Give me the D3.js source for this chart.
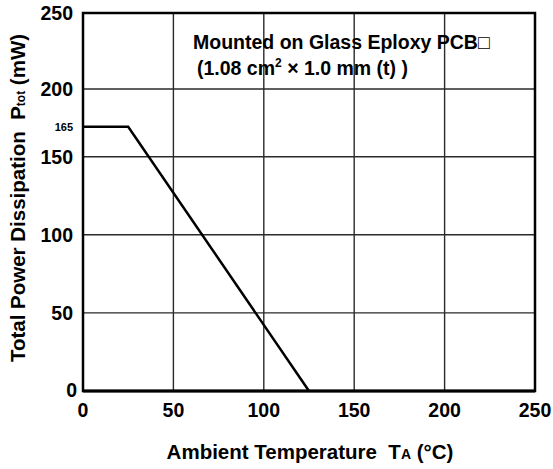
<!DOCTYPE html>
<html>
<head>
<meta charset="utf-8">
<script src="https://cdn.jsdelivr.net/npm/d3@7/dist/d3.min.js"></script>
<style>
  body { margin: 0; background: #fff; }
  svg text { font-family: "Liberation Sans", Arial, sans-serif; font-weight: bold; fill: #000; white-space: pre; }
</style>
</head>
<body>
<svg id="chart" width="553" height="469"></svg>
<script>
// axis ticks
var xTicks = [0, 50, 100, 150, 200, 250];
var yTicks = [0, 50, 100, 150, 200, 250];
var yMarks = [165];
// derating curve: ambient temperature (degC) vs power (mW)
var tempA = [0, 25, 125];
var powerTot = [165, 165, 0];
var noteLines = ['Mounted on Glass Eploxy PCB\u25A1', '(1.08 cm', '2', ' \u00D7 1.0 mm (t) )'];

var svg = d3.select('#chart');
var pLeft = 83, pRight = 535, pTop = 13, pBottom = 391;

var x = d3.scaleLinear().domain([0, 250]).range([pLeft, pRight]);
// the printed grid is not evenly spaced near the top
var y = d3.scaleLinear().domain([0, 150, 165, 200, 250]).range([pBottom, 156.7, 126.7, 89, pTop]);

// grid
svg.append('g').selectAll('line')
    .data(xTicks.slice(1, -1)).enter().append('line')
    .attr('x1', function(d) { return x(d); }).attr('x2', function(d) { return x(d); })
    .attr('y1', pTop).attr('y2', pBottom)
    .attr('stroke', '#2a2a2a').attr('stroke-width', 1.4);
svg.append('g').selectAll('line')
    .data(yTicks.slice(1, -1)).enter().append('line')
    .attr('y1', function(d) { return y(d); }).attr('y2', function(d) { return y(d); })
    .attr('x1', pLeft).attr('x2', pRight)
    .attr('stroke', '#2a2a2a').attr('stroke-width', 1.4);

// frame
svg.append('rect')
    .attr('x', pLeft).attr('y', pTop)
    .attr('width', pRight - pLeft).attr('height', pBottom - pTop)
    .attr('fill', 'none').attr('stroke', '#000').attr('stroke-width', 2.5);
svg.append('line')
    .attr('x1', pLeft).attr('x2', pRight).attr('y1', pBottom).attr('y2', pBottom)
    .attr('stroke', '#000').attr('stroke-width', 3);

// curve
var pts = tempA.map(function(t, i) { return [t, powerTot[i]]; });
svg.append('path')
    .datum(pts)
    .attr('d', d3.line().x(function(d) { return x(d[0]); }).y(function(d) { return y(d[1]); }))
    .attr('fill', 'none').attr('stroke', '#000').attr('stroke-width', 2.5);

// tick labels
svg.append('g').selectAll('text')
    .data(xTicks).enter().append('text')
    .attr('x', function(d) { return x(d); })
    .attr('y', 417)
    .attr('text-anchor', 'middle')
    .attr('font-size', 19.5)
    .text(function(d) { return d; });
svg.append('g').selectAll('text')
    .data(yTicks).enter().append('text')
    .attr('x', function(d) { return d === 0 ? 77 : 73; })
    .attr('y', function(d) { return d === 0 ? y(d) + 6 : y(d) + 7; })
    .attr('text-anchor', 'end')
    .attr('font-size', 19.5)
    .text(function(d) { return d; });
svg.append('g').selectAll('text')
    .data(yMarks).enter().append('text')
    .attr('x', 73)
    .attr('y', function(d) { return y(d) + 4; })
    .attr('text-anchor', 'end')
    .attr('font-size', 11)
    .text(function(d) { return d; });

// axis titles
var xt = svg.append('text')
    .attr('x', 310).attr('y', 459)
    .attr('text-anchor', 'middle')
    .attr('font-size', 20.5);
xt.append('tspan').text('Ambient Temperature  T');
xt.append('tspan').attr('font-size', 14).text('A');
xt.append('tspan').text(' (\u00B0C)');

var yt = svg.append('text')
    .attr('transform', 'translate(25,198) rotate(-90)')
    .attr('text-anchor', 'middle')
    .attr('font-size', 20.5);
yt.append('tspan').text('Total Power Dissipation  P');
yt.append('tspan').attr('font-size', 12).text('tot');
yt.append('tspan').text(' (mW)');

// note
svg.append('text')
    .attr('x', 193).attr('y', 49)
    .attr('font-size', 19.5)
    .text(noteLines[0]);
var n2 = svg.append('text')
    .attr('x', 197).attr('y', 75)
    .attr('font-size', 19.5);
n2.append('tspan').text(noteLines[1]);
n2.append('tspan').attr('font-size', 12).attr('dy', -8).text(noteLines[2]);
n2.append('tspan').attr('dy', 8).text(noteLines[3]);
</script>
</body>
</html>
